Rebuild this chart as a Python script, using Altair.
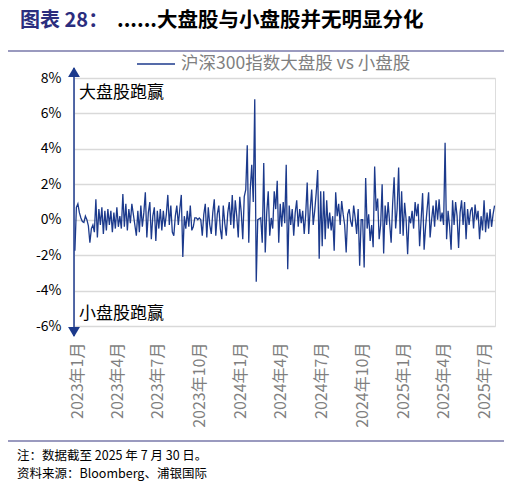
import altair as alt
import pandas as pd

FONT = "Noto Sans CJK SC"
NAVY = "#1c3a8c"

title_prefix = "图表 28："
title_main = "......大盘股与小盘股并无明显分化"
legend_label = "沪深300指数大盘股 vs 小盘股"
note_upper = "大盘股跑赢"
note_lower = "小盘股跑赢"
footnote_1 = "注：数据截至 2025 年 7 月 30 日。"
footnote_2 = "资料来源：Bloomberg、浦银国际"

first_day = "2023-01-03"
last_day = "2025-07-30"

# daily spread (large cap minus small cap, %)
spread_pct = [
    -1.75, 0.7, 0.9, 0.4, 0.1, -0.1, -0.15, 0.2, 0.0, -0.35,
    -1.3, -0.5, -0.3, -0.7, 1.15, -1.0, 0.6, -0.3, 0.7, -0.8,
    0.5, -0.6, 0.6, -0.3, 0.5, -0.7, 0.4, -0.5, 0.7, -0.4,
    0.2, -0.5, 1.45, -0.4, 0.9, -0.6, 0.6, -0.2, 0.9, 0.3,
    -0.3, -0.9, 0.5, -0.7, 0.8, -0.4, 0.4, 1.55, -1.0, 0.4,
    1.0, -1.1, 0.2, 0.7, -1.2, 0.5, -0.5, 0.6, -0.6, 0.5,
    -0.4, 0.3, 1.4, -0.3, 0.8, -0.7, -0.9, 0.2, 0.8, -0.3,
    0.6, 1.4, -2.1, 0.2, -0.5, 0.5, -0.4, 0.8, -0.6, -0.4,
    0.1, 0.1, 0.0, 0.1, 0.0, -0.9, 0.3, 0.9, -1.0, 0.7,
    -0.3, -0.8, 0.4, 1.15, -0.9, 0.3, 0.8, -0.5, -1.1, 0.8,
    -0.2, -0.9, 0.4, 1.0, -0.3, 1.4, -0.5, 1.1, 0.2, -1.0,
    1.3, 0.4, -1.1, 1.3, 1.7, 4.2, -1.3, 1.7, 3.1, 1.0,
    6.8, -3.5, 0.0, 0.05, 0.1, -1.3, 3.2, -1.85, 0.4, 1.6,
    -0.9, 0.1, -0.5, 1.6, 0.6, 2.2, -1.3, 0.9, -0.4, 1.0,
    -0.2, 3.1, -2.8, 0.8, -0.3, 0.6, -0.9, 0.4, 1.1, -0.4,
    0.6, -0.2, 0.5, -0.8, 0.3, 2.1, -0.8, 0.6, 1.7, -0.3,
    0.5, 1.5, 2.8, -2.2, 1.6, -1.5, 1.6, -1.1, 1.1, -0.5,
    0.4, -0.6, 0.2, -1.75, 1.55, 0.2, 0.9, -0.3, 1.05, 0.3,
    -0.3, -1.85, 0.3, 0.6, -0.1, -0.4, 0.8, 0.1, -0.8, 0.6,
    -2.6, 0.0, 0.0, -2.7, 2.35, -0.5, 0.3, -1.2, -0.3, -1.55,
    3.0, 0.5, 1.2, -1.1, -0.3, 2.0, -1.9, 0.8, -0.3, 1.0,
    -0.2, -1.3, 0.9, 2.4, -0.5, 0.6, 2.95, -0.8, 1.6, -0.9,
    0.95, 0.0, -1.95, 0.2, -0.2, 0.5, -0.5, 1.0, 0.2, 0.9,
    -1.5, 0.0, 1.5, -1.7, -0.4, 0.6, 1.55, -1.0, 0.0, 0.8,
    -0.4, 1.1, 0.0, 1.15, -0.1, 0.4, -0.3, 4.35, -1.1, 0.5,
    -0.4, -1.7, 1.1, -0.3, 1.0, 0.2, -1.6, 0.4, 1.1, -0.3,
    1.0, -1.1, 0.6, -0.3, 0.5, 0.7, -0.5, 0.85, 0.0, 0.5,
    -1.1, 0.2, -0.6, 1.1, -0.7, 0.4, -0.5, 0.6, -0.4, 0.3,
    0.8,
]

y_ticks = [-6, -4, -2, 0, 2, 4, 6, 8]
x_tick_months = [(2023, 1), (2023, 4), (2023, 7), (2023, 10),
                 (2024, 1), (2024, 4), (2024, 7), (2024, 10),
                 (2025, 1), (2025, 4), (2025, 7)]

dates = pd.date_range(first_day, last_day, periods=len(spread_pct))
df = pd.DataFrame({"date": dates, "spread": spread_pct})

W, H = 421, 248

line = alt.Chart(df).mark_line(color=NAVY, strokeWidth=1.3).encode(
    x=alt.X("date:T",
            scale=alt.Scale(domain=[alt.DateTime(year=2023, month=1, date=1),
                                    alt.DateTime(year=2025, month=7, date=31)]),
            axis=alt.Axis(values=[alt.DateTime(year=y, month=m, date=1) for y, m in x_tick_months],
                          labelExpr="year(datum.value) + '年' + (month(datum.value) + 1) + '月'",
                          labelAngle=270, labelAlign="right", labelBaseline="middle",
                          labelPadding=16, labelOffset=3, ticks=False, tickSize=0,
                          domain=False, grid=False, labelFont=FONT, labelFontSize=16,
                          labelColor="#7f7f7f", labelOverlap=False, labelFlush=False,
                          title=None)),
    y=alt.Y("spread:Q",
            scale=alt.Scale(domain=[-6, 8], nice=False, zero=False),
            axis=alt.Axis(values=y_ticks, labelExpr="datum.value + '%'",
                          domain=False, ticks=False, tickSize=0, grid=True,
                          gridColor="#d9d9d9", gridWidth=1.5, labelPadding=13,
                          labelFont=FONT, labelFontSize=14, labelColor="#000000",
                          title=None)),
)

one = pd.DataFrame({"k": [0]})


def text_layer(txt, x, y, size, color, weight="normal"):
    return alt.Chart(pd.DataFrame({"t": [txt]})).mark_text(
        align="left", baseline="middle", fontSize=size, color=color,
        fontWeight=weight, font=FONT).encode(
        x=alt.value(x), y=alt.value(y), text="t:N")


def hrule(x1, x2, y, color, width):
    return alt.Chart(one).mark_rule(color=color, strokeWidth=width).encode(
        x=alt.value(x1), x2=alt.value(x2), y=alt.value(y))


arrow_line = alt.Chart(one).mark_rule(color=NAVY, strokeWidth=1.5).encode(
    x=alt.value(0), y=alt.value(-10), y2=alt.value(258))
arrow_top = alt.Chart(one).mark_point(shape="triangle-up", filled=True, size=140,
                                      color=NAVY, opacity=1).encode(
    x=alt.value(0), y=alt.value(-6))
arrow_bot = alt.Chart(one).mark_point(shape="triangle-down", filled=True, size=140,
                                      color=NAVY, opacity=1).encode(
    x=alt.value(0), y=alt.value(254))

chart = alt.layer(
    line,
    arrow_line, arrow_top, arrow_bot,
    text_layer(title_prefix, -54, -57.5, 20, "#2b2d7e", "bold"),
    text_layer(title_main, 43, -57.5, 20.5, "#000000", "bold"),
    hrule(-66, 430, -27, "#9a9abf", 2),
    hrule(63, 101, -14, NAVY, 1.5),
    text_layer(legend_label, 107, -14, 17.5, "#808080"),
    text_layer(note_upper, 5, 15, 17, "#000000"),
    text_layer(note_lower, 5, 236, 17, "#000000"),
    hrule(-66, 430, 363, "#9a9abf", 2),
    text_layer(footnote_1, -57, 378, 12.5, "#000000"),
    text_layer(footnote_2, -57, 396, 12.5, "#000000"),
).properties(
    width=W, height=H,
    autosize=alt.AutoSizeParams(type="none"),
    padding={"left": 66, "top": 70, "right": 9, "bottom": 157},
).configure_view(stroke=None).configure(background="white")

chart.save("out.html", embed_options={"renderer": "svg", "actions": False})
